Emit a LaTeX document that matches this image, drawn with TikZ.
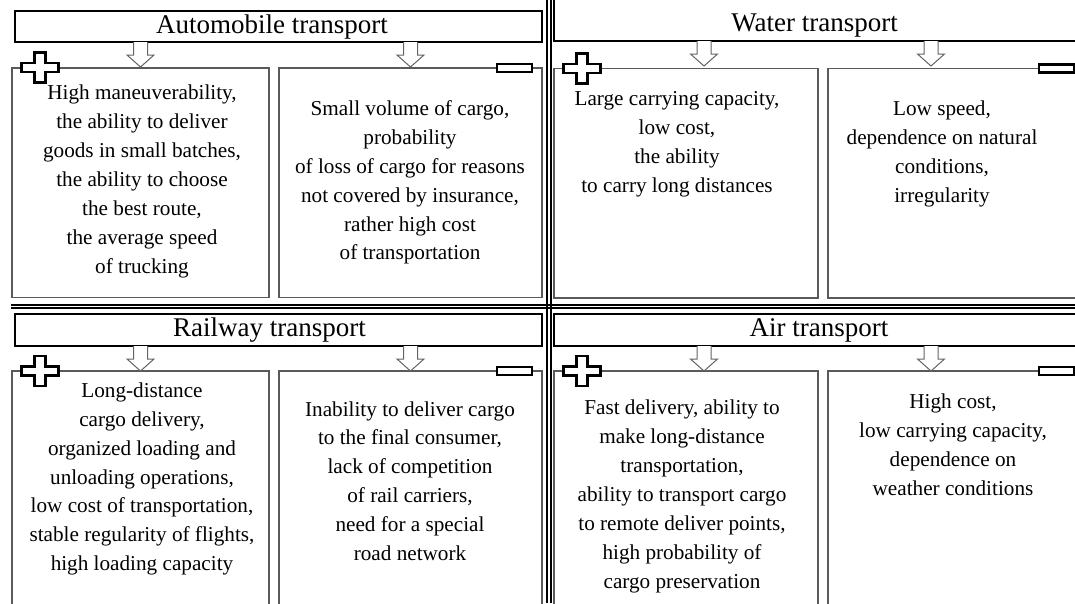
\documentclass[tikz,border=0pt]{standalone}
\usepackage{fontspec}
\setmainfont{Liberation Serif}
\definecolor{boxgray}{RGB}{90,90,90}
\definecolor{arrgray}{RGB}{100,100,100}
\begin{document}
\begin{tikzpicture}[x=1pt,y=-1pt]
\tikzset{
  cbox/.style={draw=boxgray, line width=1.2pt, inner sep=0pt, outer sep=0pt, anchor=north west},
  tbox/.style={draw=black, line width=1.5pt, inner sep=0pt, outer sep=0pt, anchor=north west},
  ttext/.style={font=\fontsize{27}{32}\selectfont, inner sep=0pt},
  btext/.style={font=\fontsize{21.2}{28.9}\selectfont, align=center, inner sep=0pt},
  divider/.style={draw=black, line width=2pt},
  plussign/.pic={\draw[line width=2.4pt, fill=white, line join=miter]
    (-5.6,-15) -- (5.6,-15) -- (5.6,-4.6) -- (18.5,-4.6) -- (18.5,4.6) -- (5.6,4.6)
    -- (5.6,15) -- (-5.6,15) -- (-5.6,4.6) -- (-18.5,4.6) -- (-18.5,-4.6) -- (-5.6,-4.6) -- cycle;},
  minussign/.pic={\draw[line width=2.4pt, fill=white] (-17.5,-4) rectangle (17.5,4);},
  blockarrow/.pic={\draw[draw=arrgray, line width=1pt, fill=white, line join=miter]
    (-7,0) -- (-7,13) -- (-13.5,13) -- (0,25) -- (13.5,13) -- (7,13) -- (7,0);}
}
\useasboundingbox (0,0) rectangle (1075,603);
\clip (0,0) rectangle (1075,603);
\fill[white] (0,0) rectangle (1075,603);

% content boxes
\node[cbox, minimum width=257pt, minimum height=229.5pt] (autoP) at (12,68) {};
\node[cbox, minimum width=263pt, minimum height=229.5pt] (autoM) at (279,68) {};
\node[cbox, minimum width=264pt, minimum height=229.5pt] (waterP) at (554,68.5) {};
\node[cbox, minimum width=256pt, minimum height=229.5pt] (waterM) at (828,68.5) {};
\node[cbox, minimum width=257pt, minimum height=260pt] (railP) at (12,371) {};
\node[cbox, minimum width=263pt, minimum height=260pt] (railM) at (279,371) {};
\node[cbox, minimum width=264pt, minimum height=260pt] (airP) at (554,371) {};
\node[cbox, minimum width=256pt, minimum height=260pt] (airM) at (828,371) {};

% dividers
\draw[divider] (546.8,0) -- (546.8,603);
\draw[divider] (550.5,0) -- (550.5,603);
\draw[divider] (11,304.5) -- (1075,304.5);
\draw[divider] (11,308) -- (1075,308);

% title boxes
\node[tbox, minimum width=527pt, minimum height=31pt] (autoT) at (15,11) {};
\node[tbox, minimum width=536pt, minimum height=46pt] (waterT) at (554,-5) {};
\node[tbox, minimum width=527pt, minimum height=32pt] (railT) at (15,314) {};
\node[tbox, minimum width=536pt, minimum height=32pt] (airT) at (554,314) {};

\node[ttext] (autoL) at (272,27) {Automobile transport};
\node[ttext] (waterL) at (814.5,25.5) {Water transport};
\node[ttext] (railL) at (269.5,330) {Railway transport};
\node[ttext] (airL) at (819,330) {Air transport};

% block arrows from titles to boxes
\pic at (autoT.south -| autoP.north) {blockarrow};
\pic at (autoT.south -| autoM.north) {blockarrow};
\pic at (waterT.south -| 704,0) {blockarrow};
\pic at (waterT.south -| 931,0) {blockarrow};
\pic at (railT.south -| railP.north) {blockarrow};
\pic at (railT.south -| railM.north) {blockarrow};
\pic at (airT.south -| 704,0) {blockarrow};
\pic at (airT.south -| 931,0) {blockarrow};

% plus / minus signs
\pic at ([xshift=28pt,yshift=0.5pt]autoP.north west) {plussign};
\pic at ([xshift=-27.5pt]autoM.north east) {minussign};
\pic at ([xshift=28pt]waterP.north west) {plussign};
\pic at ([xshift=-27.5pt]waterM.north east) {minussign};
\pic at ([xshift=28pt]railP.north west) {plussign};
\pic at ([xshift=-27.5pt]railM.north east) {minussign};
\pic at ([xshift=28pt]airP.north west) {plussign};
\pic at ([xshift=-27.5pt]airM.north east) {minussign};

% texts
\node[btext] (autoPt) at (142,181.5) {High maneuverability,\\the ability to deliver\\goods in small batches,\\the ability to choose\\the best route,\\the average speed\\of trucking};
\node[btext] (autoMt) at (410,182.5) {Small volume of cargo,\\probability\\of loss of cargo for reasons\\not covered by insurance,\\rather high cost\\of transportation};
\node[btext] (waterPt) at (677,144.5) {Large carrying capacity,\\low cost,\\the ability\\to carry long distances};
\node[btext] (waterMt) at (942,154) {Low speed,\\dependence on natural\\conditions,\\irregularity};
\node[btext] (railPt) at (142,479) {Long-distance\\cargo delivery,\\organized loading and\\unloading operations,\\low cost of transportation,\\stable regularity of flights,\\high loading capacity};
\node[btext] (railMt) at (410,481) {Inability to deliver cargo\\to the final consumer,\\lack of competition\\of rail carriers,\\need for a special\\road network};
\node[btext] (airPt) at (682,496.5) {Fast delivery, ability to\\make long-distance\\transportation,\\ability to transport cargo\\to remote deliver points,\\high probability of\\cargo preservation};
\node[btext] (airMt) at (953,445) {High cost,\\low carrying capacity,\\dependence on\\weather conditions};
\end{tikzpicture}
\end{document}
